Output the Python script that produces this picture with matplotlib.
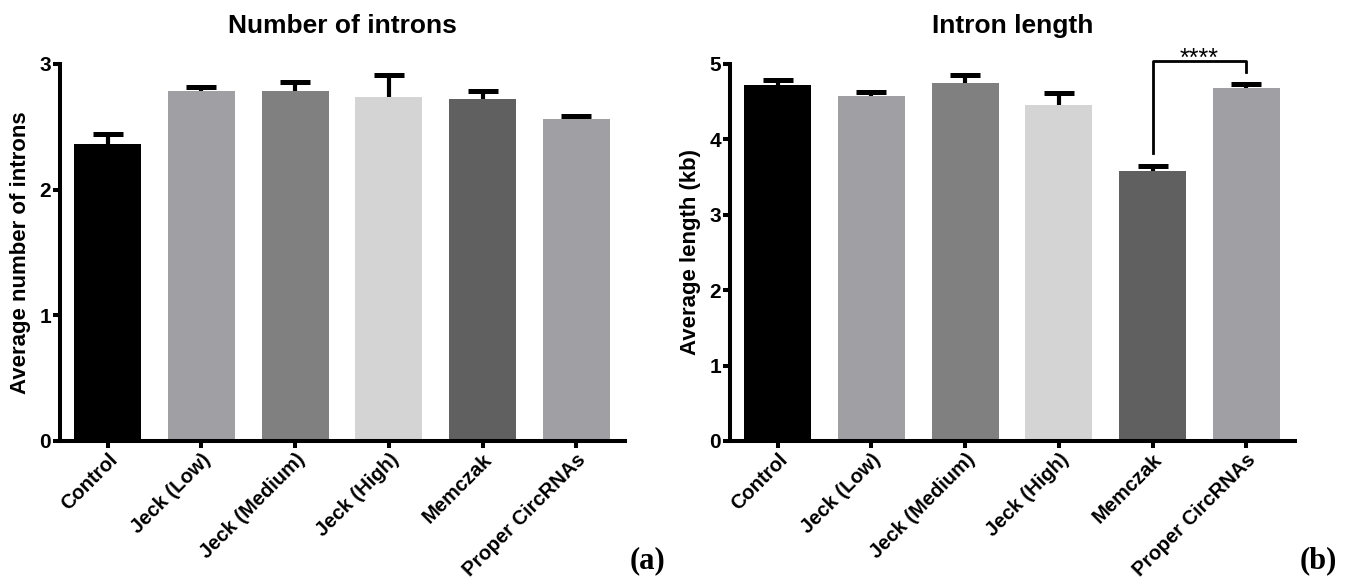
import matplotlib
matplotlib.use("Agg")
import matplotlib.pyplot as plt
import numpy as np

# Data
groups = ['Control', 'Jeck (Low)', 'Jeck (Medium)', 'Jeck (High)', 'Memczak', 'Proper CircRNAs']
bar_colors = ['#000000', '#a0a0a4', '#808080', '#d4d4d4', '#606060', '#a0a0a4']

introns_mean = [2.365, 2.786, 2.786, 2.739, 2.725, 2.565]
introns_err = [0.08, 0.03, 0.07, 0.17, 0.06, 0.02]

length_mean = [4.716, 4.574, 4.748, 4.45, 3.575, 4.685]
length_err = [0.065, 0.055, 0.10, 0.17, 0.075, 0.055]

sans = ['Liberation Sans', 'DejaVu Sans']
narrow = ['Liberation Sans Narrow', 'Liberation Sans', 'DejaVu Sans']
serif = ['Liberation Serif', 'DejaVu Serif']


def draw_panel(ax, means, errs, ymax, ylabel, title):
    x = np.arange(len(groups))
    ax.bar(x, means, 0.715, color=bar_colors, zorder=2)
    # symmetric SEM, the lower half is hidden behind the bar
    ax.errorbar(x, means, yerr=errs, fmt='none',
                ecolor='black', elinewidth=3, capsize=11, capthick=3.6, zorder=1)

    ax.set_xlim(-0.51, len(groups) - 0.48)
    ax.set_ylim(0, ymax)
    ax.set_yticks(np.arange(0, ymax + 1))
    ax.set_xticks(x)
    ax.set_xticklabels(groups, rotation=45, ha='right', rotation_mode='anchor',
                       fontsize=14.5, fontweight='bold', family=sans)
    for lab in ax.get_yticklabels():
        lab.set_family(narrow)
        lab.set_fontweight('bold')
        lab.set_fontsize(15)

    ax.spines['top'].set_visible(False)
    ax.spines['right'].set_visible(False)
    ax.spines['left'].set_linewidth(2.9)
    ax.spines['bottom'].set_linewidth(2.9)
    ax.tick_params(axis='both', direction='out', length=5, width=2.9, pad=1.5)

    ax.set_ylabel(ylabel, fontsize=16, fontweight='bold', family=sans, labelpad=6)
    ax.set_title(title, fontsize=19, fontweight='bold', family=narrow, pad=22)


fig = plt.figure(figsize=(13.51, 5.81), dpi=100)
ax1 = fig.add_axes([0.0444, 0.241, 0.4182, 0.6489])
ax2 = fig.add_axes([0.5403, 0.241, 0.4182, 0.6489])

draw_panel(ax1, introns_mean, introns_err, 3, 'Average number of introns', 'Number of introns')
draw_panel(ax2, length_mean, length_err, 5, 'Average length (kb)', 'Intron length')

# significance bracket Memczak vs Proper CircRNAs
ax2.plot([4, 4, 5, 5], [3.82, 5.04, 5.04, 4.89], color='black', lw=2, clip_on=False)
ax2.text(4.5, 4.97, '****', ha='center', va='baseline', fontsize=18, family=sans)

fig.text(0.466, 0.022, '(a)', fontsize=22, fontweight='bold', family=serif)
fig.text(0.962, 0.022, '(b)', fontsize=22, fontweight='bold', family=serif)

fig.savefig('out.png', dpi=100)
